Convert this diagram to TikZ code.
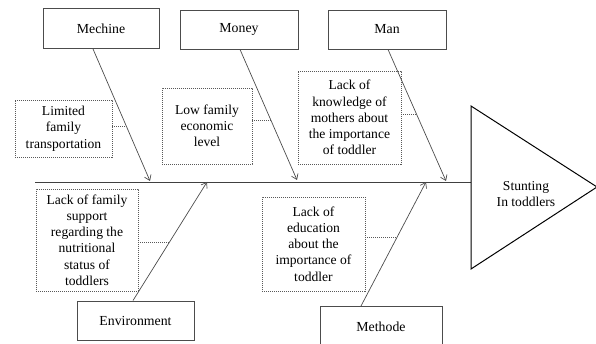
\documentclass[tikz,border=0pt]{standalone}
\usepackage{fontspec}
\setmainfont{Liberation Serif}
\usetikzlibrary{arrows.meta}
\begin{document}
\begin{tikzpicture}[x=1pt,y=-1pt,
  catbox/.style={draw=black!70,line width=0.9pt,inner sep=0pt,align=center,font=\fontsize{13.8}{16}\selectfont},
  causebox/.style={draw=black!65,line width=0.6pt,dash pattern=on 1.1pt off 0.9pt,inner sep=0pt,align=center,font=\fontsize{13.6}{16.2}\selectfont},
  bone/.style={draw=black!70,line width=0.7pt,-{Straight Barb[length=5pt,width=7pt]}},
  tie/.style={draw=black!65,line width=0.6pt,dash pattern=on 1.1pt off 0.9pt}]
\useasboundingbox (0,0) rectangle (596,344);
% category boxes
\node[catbox,minimum width=116pt,minimum height=40pt] (mech) at (101,28.5) {Mechine};
\node[catbox,minimum width=118pt,minimum height=39pt] (money) at (239,29.5) {Money};
\node[catbox,minimum width=118pt,minimum height=39pt] (man) at (387,29.5) {Man};
\node[catbox,minimum width=117pt,minimum height=39pt] (env) at (135.5,320.5) {Environment};
\node[catbox,minimum width=122pt,minimum height=42pt] (meth) at (381,327) {Methode};
% cause boxes
\node[causebox,minimum width=97pt,minimum height=57pt,font=\fontsize{13.6}{16.6}\selectfont] (lim) at (63.5,128.5) {Limited\\family\\transportation};
\node[causebox,minimum width=90pt,minimum height=76pt] (low) at (207,126) {Low family\\economic\\level};
\node[causebox,minimum width=103pt,minimum height=93pt] (know) at (349.5,117.5) {Lack of\\knowledge of\\mothers about\\the importance\\of toddler};
\node[causebox,minimum width=102pt,minimum height=102pt] (sup) at (87,240) {Lack of family\\support\\regarding the\\nutritional\\status of\\toddlers};
\node[causebox,minimum width=103pt,minimum height=94pt] (edu) at (313.5,244) {Lack of\\education\\about the\\importance of\\toddler};
% spine and head
\coordinate (sL) at (35,182);
\coordinate (sR) at (471,182);
\draw[black!75,line width=0.8pt] (sL) -- (sR);
\coordinate (tA) at (471,106);
\coordinate (tB) at (471,269);
\coordinate (tC) at (597,187);
\draw[black,line width=1pt,line join=miter] (tA) -- (tC) -- (tB) -- cycle;
\node[font=\fontsize{13.6}{16.5}\selectfont,align=center] (stunt) at (526,194) {Stunting\\In toddlers};
% bone ends on spine
\coordinate (e1) at (150,181);
\coordinate (e2) at (297,180);
\coordinate (e3) at (446,181);
\coordinate (e4) at (207,182);
\coordinate (e5) at (426,182);
\draw[bone] ([xshift=-8pt]mech.south) -- (e1);
\draw[bone] ([xshift=1pt]money.south) -- (e2);
\draw[bone] ([xshift=1pt]man.south) -- (e3);
\draw[bone] ([xshift=-2.5pt]env.north) -- (e4);
\draw[bone] (361,306) -- (e5);
% dashed ties
\coordinate (k1) at (126.5,126);
\coordinate (k2) at (271,120);
\coordinate (k3) at (417,114);
\coordinate (k4) at (169.7,242);
\coordinate (k5) at (396,237);
\draw[tie] (lim.east |- k1) -- (k1);
\draw[tie] (low.east |- k2) -- (k2);
\draw[tie] (know.east |- k3) -- (k3);
\draw[tie] (sup.east |- k4) -- (k4);
\draw[tie] (edu.east |- k5) -- (k5);
\end{tikzpicture}
\end{document}
